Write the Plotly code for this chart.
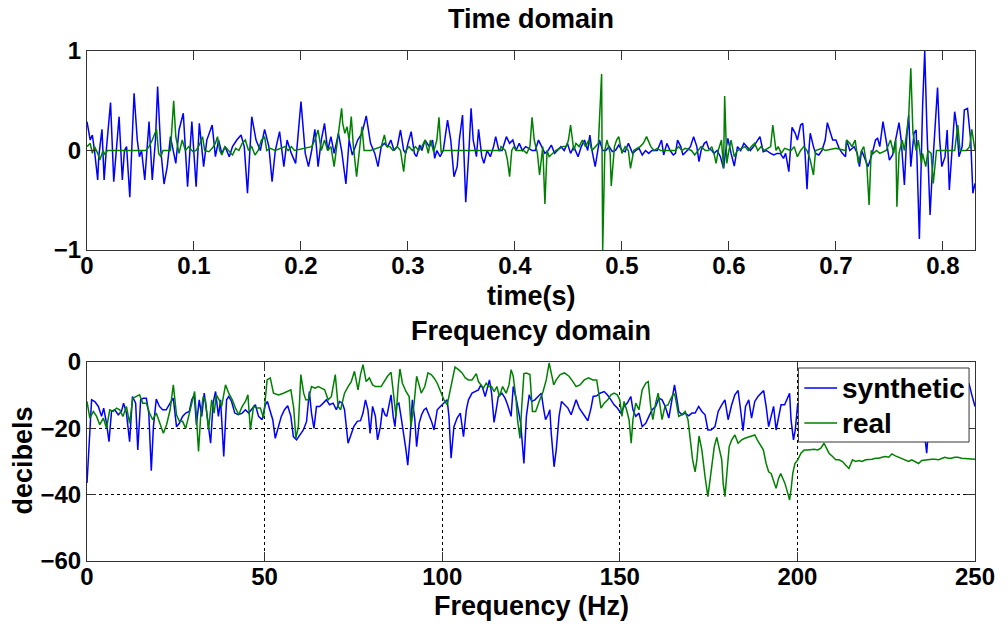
import plotly.graph_objects as go

# ---------------- Time domain data (seconds, normalised amplitude) ----------------
t_synth = [
    0.000, 0.003, 0.005, 0.007, 0.010, 0.011, 0.014, 0.016, 0.018, 0.022,
    0.025, 0.028, 0.030, 0.033, 0.035, 0.037, 0.040, 0.044, 0.047, 0.049,
    0.051, 0.054, 0.058, 0.061, 0.064, 0.066, 0.069, 0.072, 0.075, 0.078,
    0.083, 0.086, 0.090, 0.094, 0.098, 0.102, 0.105, 0.109, 0.112, 0.117,
    0.120, 0.123, 0.126, 0.129, 0.133, 0.136, 0.140, 0.144, 0.147, 0.150,
    0.154, 0.158, 0.162, 0.166, 0.170, 0.173, 0.176, 0.180, 0.184, 0.187,
    0.191, 0.195, 0.200, 0.204, 0.207, 0.210, 0.213, 0.216, 0.219, 0.222,
    0.225, 0.228, 0.231, 0.235, 0.238, 0.242, 0.245, 0.248, 0.253, 0.257,
    0.261, 0.265, 0.269, 0.272,
    0.275, 0.278, 0.281, 0.284, 0.287, 0.290, 0.293, 0.296, 0.298, 0.300,
    0.303, 0.306, 0.308, 0.311, 0.313, 0.316, 0.320, 0.323, 0.325, 0.327,
    0.330, 0.333, 0.337, 0.340, 0.343, 0.346, 0.348, 0.351, 0.353, 0.354,
    0.357, 0.359, 0.361, 0.364, 0.366, 0.369, 0.371, 0.374, 0.377, 0.380,
    0.382, 0.385, 0.388, 0.392, 0.395, 0.398, 0.401, 0.404, 0.407, 0.410,
    0.413, 0.416, 0.419, 0.422, 0.425, 0.428, 0.431, 0.434, 0.437, 0.440,
    0.443, 0.446, 0.449, 0.452, 0.455, 0.459, 0.462, 0.465, 0.468, 0.470,
    0.472, 0.475, 0.477, 0.479, 0.482, 0.485, 0.488, 0.491, 0.494, 0.497,
    0.500, 0.503, 0.506, 0.510, 0.513, 0.516, 0.519, 0.522, 0.525, 0.528,
    0.533, 0.537, 0.539, 0.542, 0.545, 0.548,
    0.550, 0.552, 0.555, 0.557, 0.561, 0.564, 0.567, 0.570, 0.572, 0.574,
    0.577, 0.579, 0.581, 0.584, 0.586, 0.589, 0.592, 0.595, 0.597, 0.599,
    0.602, 0.605, 0.608, 0.611, 0.614, 0.617, 0.620, 0.623, 0.626, 0.629,
    0.632, 0.635, 0.639, 0.642, 0.645, 0.648, 0.651, 0.653, 0.656, 0.659,
    0.662, 0.664, 0.667, 0.669, 0.671, 0.673, 0.675, 0.676, 0.679, 0.681,
    0.684, 0.687, 0.690, 0.692, 0.695, 0.697, 0.700, 0.703, 0.706, 0.709,
    0.710, 0.713, 0.717, 0.720, 0.722, 0.724, 0.727, 0.730, 0.734, 0.737,
    0.739, 0.741, 0.744, 0.747, 0.750, 0.753, 0.756, 0.759, 0.761, 0.764,
    0.766, 0.768, 0.770, 0.773, 0.775, 0.778, 0.781, 0.783, 0.785, 0.788,
    0.790, 0.792, 0.795, 0.797, 0.799, 0.802, 0.804, 0.806, 0.809, 0.811,
    0.813, 0.815, 0.818, 0.820, 0.823, 0.826, 0.828, 0.830,
]
v_synth = [
    0.29, 0.105, 0.156, 0.0, -0.296, -0.062, 0.213, -0.296, 0.0, 0.481,
    -0.313, 0.105, 0.34, -0.296, 0.0, 0.039, -0.47, 0.575, 0.105, -0.062,
    0.0, -0.296, 0.29, -0.296, 0.105, 0.642, 0.0, -0.337, -0.162, 0.139,
    -0.129, 0.206, 0.374, -0.363, 0.29, -0.363, 0.273, -0.162, 0.105, 0.256,
    -0.062, 0.105, -0.029, 0.039, -0.062, 0.039, 0.105, 0.156, 0.039, -0.43,
    0.34, 0.105, 0.0, 0.213, 0.039, -0.313, 0.0, 0.189, -0.162, 0.105,
    -0.029, -0.129, 0.491, -0.029, -0.162, 0.0, 0.213, -0.162, 0.105, 0.273,
    0.0, 0.139, -0.029, 0.173, 0.0, -0.337, 0.105, -0.045, 0.105, 0.173,
    0.347, 0.072, -0.029, -0.162,
    0.039, 0.072, 0.039, 0.105, 0.0, 0.039, 0.206, 0.0, -0.029, 0.072,
    0.189, -0.029, -0.062, 0.055, 0.0, 0.105, 0.039, 0.105, -0.079, 0.0,
    -0.062, 0.0, 0.306, 0.105, -0.263, -0.162, 0.105, 0.357, -0.129, -0.52,
    0.0, 0.424, 0.105, -0.062, 0.213, -0.062, -0.129, 0.0, -0.062, 0.039,
    0.139, 0.0, 0.0, 0.139, 0.072, 0.105, 0.0, 0.072, 0.0, 0.039,
    0.022, 0.0, 0.0, 0.105, 0.039, -0.029, 0.0, 0.055, -0.029, 0.0,
    0.039, 0.0, 0.072, -0.029, 0.039, -0.062, 0.039, 0.105, 0.0, 0.156,
    0.0, -0.162, -0.029, 0.105, 0.0, 0.0, 0.039, -0.012, 0.0, 0.055,
    0.0, -0.012, 0.072, -0.029, 0.0, 0.022, -0.045, 0.0, -0.029, 0.0,
    0.0, 0.105, -0.045, 0.072, 0.0, -0.045,
    -0.029, 0.105, 0.039, -0.045, 0.0, 0.039, 0.139, 0.039, -0.112, 0.0,
    0.072, 0.089, 0.022, 0.0, -0.029, 0.0, -0.062, -0.179, 0.0, 0.122,
    -0.029, -0.156, 0.039, 0.0, 0.072, 0.039, 0.0, 0.039, 0.089, 0.139,
    -0.012, 0.0, -0.029, -0.045, -0.029, -0.029, -0.079, -0.029, -0.213, 0.233,
    0.173, 0.105, 0.256, 0.273, 0.0, -0.39, 0.039, 0.173, 0.039, -0.029,
    -0.045, 0.0, 0.105, 0.28, 0.173, 0.105, 0.105, 0.022, -0.029, -0.062,
    0.105, 0.0, 0.039, -0.029, -0.162, 0.0, -0.079, -0.162, -0.029, 0.105,
    0.122, 0.039, 0.29, 0.105, -0.096, -0.045, 0.105, 0.28, 0.105, -0.347,
    0.105, 0.357, -0.162, 0.173, 0.206, -0.889, 0.441, 1.0, 0.24, -0.648,
    -0.229, 0.105, 0.632, 0.105, -0.162, -0.062, 0.206, -0.397, 0.039, 0.39,
    0.24, -0.062, 0.039, 0.407, 0.424, 0.105, -0.43, -0.33,
]

t_real = [
    0.000, 0.003, 0.005, 0.007, 0.010, 0.012, 0.015, 0.017, 0.019, 0.021,
    0.055, 0.058, 0.061, 0.065, 0.067, 0.069, 0.071, 0.078, 0.079, 0.081,
    0.083, 0.085, 0.086, 0.089, 0.092, 0.095, 0.099, 0.102, 0.105, 0.108,
    0.110, 0.114, 0.117, 0.120, 0.122, 0.124, 0.126, 0.129, 0.133, 0.136,
    0.139, 0.142, 0.145, 0.148, 0.151, 0.154, 0.157, 0.160, 0.163, 0.166,
    0.168, 0.171, 0.176, 0.182, 0.185, 0.188, 0.191, 0.194, 0.210, 0.213,
    0.216, 0.219, 0.222, 0.225, 0.228, 0.231, 0.235, 0.238, 0.239, 0.241,
    0.243, 0.245, 0.247, 0.249, 0.252, 0.255, 0.257, 0.259, 0.265,
    0.275, 0.278, 0.280, 0.283, 0.286, 0.290, 0.293, 0.296, 0.298, 0.301,
    0.304, 0.307, 0.310, 0.313, 0.316, 0.319, 0.321, 0.324, 0.327, 0.329,
    0.331, 0.333, 0.386, 0.387, 0.391, 0.393, 0.395, 0.397, 0.399, 0.401,
    0.408, 0.411, 0.414, 0.416, 0.418, 0.421, 0.423, 0.426, 0.428, 0.430,
    0.432, 0.435, 0.438, 0.445, 0.448, 0.450, 0.452, 0.455, 0.457, 0.460,
    0.463, 0.466, 0.469, 0.472, 0.478, 0.481, 0.482, 0.484, 0.486, 0.489,
    0.490, 0.493, 0.495, 0.497, 0.500, 0.503, 0.506, 0.508, 0.511, 0.514,
    0.517, 0.520, 0.523, 0.527, 0.530, 0.533, 0.536, 0.547,
    0.550, 0.553, 0.556, 0.559, 0.565, 0.568, 0.571, 0.574, 0.578, 0.581,
    0.584, 0.586, 0.588, 0.590, 0.593, 0.595, 0.596, 0.598, 0.600, 0.602,
    0.605, 0.608, 0.615, 0.618, 0.621, 0.624, 0.627, 0.630, 0.633, 0.639,
    0.641, 0.644, 0.646, 0.649, 0.652, 0.658, 0.661, 0.664, 0.667, 0.670,
    0.673, 0.676, 0.679, 0.681, 0.687, 0.690, 0.700, 0.709, 0.710, 0.713,
    0.715, 0.718, 0.721, 0.724, 0.726, 0.729, 0.731, 0.733, 0.735, 0.738,
    0.741, 0.747, 0.751, 0.754, 0.756, 0.757, 0.759, 0.762, 0.764, 0.768,
    0.770, 0.772, 0.775, 0.777, 0.780, 0.781, 0.784, 0.786, 0.789, 0.791,
    0.794, 0.811, 0.814, 0.816, 0.822, 0.825, 0.827, 0.830,
]
v_real = [
    0.039, 0.072, -0.029, 0.039, -0.029, -0.096, 0.0, -0.045, 0.0, 0.0,
    0.0, 0.039, 0.105, 0.213, -0.029, -0.062, 0.0, 0.0, 0.206, 0.5,
    0.139, 0.039, -0.029, 0.105, 0.0, 0.039, -0.012, 0.0, 0.055, 0.139,
    0.0, -0.012, 0.022, 0.072, 0.139, 0.0, -0.045, 0.039, -0.012, -0.045,
    0.022, 0.0, 0.072, 0.105, 0.0, 0.039, -0.045, 0.0, 0.105, 0.139,
    0.0, 0.022, 0.0, 0.022, 0.039, 0.0, 0.039, 0.0, 0.039, 0.105,
    0.206, 0.0, 0.105, 0.0, 0.039, -0.162, 0.206, 0.424, 0.273, 0.173,
    0.24, 0.105, 0.34, 0.039, -0.263, 0.039, 0.24, 0.0, 0.0,
    0.039, 0.156, 0.039, 0.039, 0.0, 0.039, 0.0, -0.213, 0.0, 0.039,
    0.0, 0.039, 0.0, 0.039, 0.105, -0.029, 0.105, -0.012, 0.105, 0.333,
    -0.012, 0.0, 0.0, 0.039, 0.0, -0.096, -0.263, 0.0, 0.039, 0.0,
    0.0, -0.029, 0.039, 0.333, 0.105, -0.029, -0.246, 0.039, -0.537, 0.0,
    -0.062, -0.029, 0.0, 0.039, 0.039, 0.105, 0.256, 0.0, 0.072, 0.039,
    0.105, 0.039, 0.105, 0.0, 0.072, 0.769, -1.0, 0.0, 0.105, -0.029,
    -0.357, 0.039, 0.105, 0.139, -0.029, 0.039, 0.0, -0.179, 0.0, 0.022,
    0.039, 0.072, 0.139, 0.039, 0.0, 0.022, 0.0, 0.0,
    0.0, 0.039, 0.0, 0.022, 0.0, -0.045, 0.0, 0.039, 0.0, 0.0,
    0.039, -0.029, -0.129, 0.0, 0.105, -0.179, 0.548, -0.129, 0.0, 0.105,
    -0.062, 0.0, 0.039, 0.0, 0.039, 0.072, 0.0, 0.039, 0.0, 0.039,
    0.256, 0.0, 0.039, -0.029, 0.022, 0.0, 0.039, -0.062, 0.0, 0.039,
    0.0, -0.096, -0.246, 0.0, 0.022, 0.0, 0.022, 0.0, 0.105, 0.072,
    0.039, 0.105, -0.129, 0.0, 0.039, -0.162, -0.547, 0.0, -0.029, 0.0,
    -0.029, 0.0, 0.105, -0.029, 0.105, -0.564, -0.029, 0.105, 0.0, 0.34,
    0.826, 0.173, 0.0, 0.105, -0.129, -0.029, -0.162, 0.0, -0.029, -0.33,
    0.0, 0.0, 0.256, 0.0, 0.0, 0.039, 0.213, 0.0,
]

# ---------------- Frequency domain data (Hz, dB) ----------------
f_synth = [
    0.0, 1.3, 2.2, 3.2, 4.1, 4.7, 5.5, 6.2, 6.9, 7.8,
    8.8, 9.7, 10.3, 11.1, 12.0, 12.8, 13.7, 14.3, 15.1, 15.9,
    16.7, 17.4, 18.1, 18.7, 19.5, 20.4, 21.3, 22.3, 23.4, 24.3,
    25.2, 26.0, 26.9, 27.8, 28.8, 29.5, 30.2, 30.8, 31.6, 32.3,
    33.0, 33.9, 34.8, 35.5, 36.2, 37.0, 37.6, 38.5, 39.3, 39.9,
    40.7, 41.6, 42.6, 43.7, 44.6, 45.5, 46.5, 47.4, 48.3, 49.3,
    50.2, 50.8, 51.6, 52.3, 53.0, 53.7, 54.7, 55.6, 56.5, 57.4,
    58.1, 59.0, 60.0, 60.9, 61.8, 62.6, 63.2, 63.9, 64.6, 65.5,
    66.5, 67.4, 68.3, 69.3, 70.2, 71.1, 71.9, 72.5, 73.5, 74.2,
    75.1, 76.1, 77.0, 77.7, 78.4, 79.1, 79.7, 80.4, 81.2,
    81.8, 82.6, 83.2, 83.9, 84.4, 85.1, 85.6, 86.2, 86.7, 87.2,
    87.8, 88.4, 89.1, 89.8, 90.3, 91.0, 91.6, 92.3, 92.8, 93.5,
    94.2, 94.9, 95.5, 96.3, 97.0, 97.7, 98.6, 99.5, 100.5, 101.4,
    101.9, 102.5, 103.3, 104.2, 105.1, 106.0, 106.8, 107.4, 108.4, 109.3,
    110.2, 110.9, 111.4, 112.1, 112.7, 113.3, 113.9, 114.6, 115.2, 115.8,
    116.8, 117.7, 118.4, 119.4, 120.0, 120.9, 122.1, 123.0, 123.7, 124.5,
    125.2, 126.1, 127.0, 127.9, 128.6, 129.1, 129.8, 130.3, 130.7, 131.5,
    132.1, 132.9, 133.6, 134.4, 135.4, 136.3, 137.0, 137.7, 138.6, 139.6,
    141.0, 141.9, 142.5, 143.5, 144.4, 145.6, 146.5, 147.5, 148.4, 149.3,
    150.3, 151.2, 152.1, 153.1, 153.7, 154.5, 155.4, 156.3, 157.3, 158.2,
    159.1, 160.1, 161.0, 161.9, 162.8, 163.8, 164.7, 165.4,
    166.1, 166.6, 167.5, 168.4, 169.4, 170.3, 171.2, 172.2, 173.1, 174.0,
    174.8, 175.7, 176.8, 177.7, 178.7, 179.6, 180.5, 181.5, 182.4, 183.3,
    184.0, 184.7, 185.4, 186.3, 187.1, 188.0, 188.9, 189.9, 190.5, 191.2,
    191.9, 192.6, 193.3, 194.0, 194.8, 195.4, 196.4, 197.0, 197.8, 198.2,
    198.9, 199.4, 200.1,
    201.0, 202.0, 203.5, 205.0, 206.0, 207.5, 209.0, 210.0, 211.5, 213.0,
    214.0, 215.5, 217.0, 218.0, 219.5, 221.0, 222.0, 223.5, 225.0, 226.0,
    227.5, 229.0, 230.0, 231.5, 233.0, 234.0, 235.5, 236.4, 237.2, 238.5,
    240.0, 241.0, 242.5, 244.0, 245.0, 246.5, 247.5, 248.3, 249.1, 250.0,
]
db_synth = [
    -36.5, -11.4, -11.9, -13.4, -16.4, -13.9, -18.5, -24.0, -14.9, -14.4,
    -15.9, -14.9, -12.4, -15.4, -24.0, -10.4, -12.4, -26.5, -11.4, -10.9,
    -10.9, -15.4, -32.8, -19.5, -11.2, -13.4, -14.4, -14.4, -12.4, -10.9,
    -19.5, -18.5, -16.4, -15.4, -14.9, -11.4, -9.9, -18.9, -11.4, -16.4,
    -9.4, -17.4, -24.5, -12.4, -8.9, -16.4, -11.4, -28.5, -11.4, -10.4,
    -11.9, -15.4, -15.9, -15.4, -14.4, -15.4, -13.9, -12.9, -16.4, -17.4,
    -12.9, -11.9, -14.9, -17.4, -23.0, -20.0, -16.4, -14.4, -13.2, -16.4,
    -22.5, -23.5, -22.0, -20.5, -18.0, -8.9, -15.4, -20.0, -13.4, -13.4,
    -12.4, -11.4, -12.9, -12.4, -14.4, -11.9, -12.4, -14.4, -24.5, -22.5,
    -19.5, -17.9, -17.7, -15.4, -11.4, -14.4, -21.5, -13.4, -16.4,
    -23.5, -19.5, -13.9, -15.9, -16.4, -12.9, -9.9, -16.4, -19.5, -12.9,
    -12.4, -16.4, -21.0, -26.5, -31.1, -22.0, -11.4, -17.4, -25.5, -18.5,
    -15.9, -14.4, -13.9, -15.9, -17.9, -20.5, -14.4, -13.4, -12.4, -11.4,
    -16.4, -29.0, -19.5, -16.9, -15.4, -22.5, -14.4, -11.4, -9.4, -8.9,
    -8.4, -6.9, -7.9, -10.4, -7.4, -5.4, -9.4, -18.2, -14.4, -10.4,
    -9.4, -10.9, -12.9, -16.4, -7.4, -11.4, -18.5, -30.6, -16.4, -9.9,
    -11.9, -11.4, -10.4, -9.4, -14.4, -17.4, -15.9, -14.4, -21.5, -31.6,
    -26.5, -16.4, -11.9, -12.9, -13.9, -15.9, -13.4, -11.4, -13.9, -15.4,
    -17.7, -13.9, -10.4, -10.2, -9.4, -8.9, -9.9, -11.4, -12.9, -13.9,
    -15.4, -13.4, -12.4, -10.4, -14.4, -16.4, -15.4, -19.5, -18.5, -16.4,
    -14.4, -13.4, -10.9, -11.4, -13.4, -16.9, -11.4, -6.9,
    -11.4, -14.9, -15.9, -15.4, -16.2, -15.4, -15.4, -13.4, -14.9, -15.9,
    -20.5, -20.5, -19.5, -14.9, -12.9, -11.4, -17.4, -12.9, -9.9, -8.6,
    -14.4, -20.7, -13.4, -11.4, -16.9, -11.9, -10.4, -9.4, -8.6, -13.4,
    -19.5, -16.4, -13.4, -20.5, -16.4, -12.9, -12.9, -11.4, -9.4, -17.4,
    -23.5, -20.5, -12.4,
    -15.0, -11.0, -14.0, -18.0, -12.0, -10.0, -16.0, -13.0, -19.0, -12.0,
    -10.0, -15.0, -13.0, -18.0, -11.0, -14.0, -9.0, -16.0, -12.0, -20.0,
    -13.0, -11.0, -15.0, -10.0, -17.0, -13.0, -19.0, -27.5, -16.0, -12.0,
    -14.0, -10.0, -17.0, -12.0, -15.0, -9.0, -12.0, -6.4, -9.9, -13.4,
]

f_real = [
    0.0, 0.8, 1.8, 2.7, 3.6, 4.6, 5.5, 6.4, 7.4, 8.3,
    9.2, 10.1, 11.1, 12.0, 12.9, 13.9, 14.8, 15.7, 16.7, 17.6,
    18.5, 19.5, 20.4, 21.5, 22.4, 23.4, 24.3, 25.2, 26.0, 26.9,
    27.8, 28.8, 29.7, 30.3, 30.8, 31.4, 32.0, 32.7, 33.4, 34.2,
    35.1, 35.8, 36.4, 37.2, 37.9, 39.0, 39.9, 40.9, 41.8, 42.7,
    43.7, 44.6, 45.3, 46.0, 46.9, 47.9, 48.8, 49.7, 50.7, 51.6,
    52.5, 53.9, 55.3, 56.5, 57.4, 58.2, 58.8, 59.5, 60.2, 61.0,
    61.6, 62.3, 63.2, 64.2, 65.1, 66.0, 66.9, 67.9, 68.8, 69.9,
    70.7, 71.4, 72.5, 73.5, 74.4, 75.3, 76.3, 77.0, 77.7, 78.6,
    79.5, 80.4, 81.2,
    82.8, 83.7, 84.6, 85.6, 86.3, 87.0, 87.6, 88.1, 88.8, 89.8,
    90.7, 91.2, 92.1, 92.8, 93.5, 94.1, 95.1, 96.0, 96.9, 97.7,
    98.6, 99.5, 100.5, 101.4, 102.3, 103.1, 103.6, 104.6, 105.6, 106.5,
    107.4, 108.4, 109.0, 109.6, 110.2, 110.9, 111.6, 112.4, 113.0, 113.9,
    114.6, 115.4, 116.1, 117.0, 118.0, 118.8, 119.4, 120.0, 120.8, 121.2,
    121.9, 122.4, 123.0, 123.7, 124.7, 125.4, 126.3, 127.3, 128.4, 129.3,
    130.1, 130.7, 131.4, 132.1, 133.2, 134.4, 135.7, 136.8, 137.7, 138.8,
    140.0, 141.2, 142.4, 143.5, 144.2, 144.7, 145.6, 146.6, 147.5, 148.4,
    149.3, 150.0, 150.6, 151.2, 151.9, 152.6, 153.2, 153.7, 154.5, 155.4,
    156.3, 157.3, 158.0, 158.7, 159.3, 160.1, 160.8, 161.4, 161.9, 162.7,
    163.6, 164.2, 165.2,
    165.6, 166.1, 166.6, 167.5, 168.4, 169.2, 169.8, 170.5, 171.2, 171.7,
    172.3, 173.1, 174.0, 174.8, 175.4, 176.1, 176.6, 177.3, 177.9, 178.7,
    179.1, 179.6, 180.3, 180.8, 181.5, 182.4, 183.3, 184.3, 185.2, 186.1,
    187.1, 188.0, 188.7, 189.7, 190.4, 191.2, 191.9, 192.6, 193.4, 194.0,
    194.7, 195.3, 195.9, 196.5, 197.3, 197.8, 198.2, 198.7, 199.3, 200.1,
    201.0, 201.9, 202.9, 203.8, 204.7, 205.7, 206.6, 207.5, 208.3, 208.9,
    209.9, 210.8, 211.7, 212.7, 213.6, 214.5, 215.5, 216.4, 217.3, 218.2,
    219.2, 220.1, 221.0, 222.0, 222.9, 223.8, 224.8, 225.7, 226.6, 227.6,
    228.5, 229.4, 230.4, 231.3, 232.2, 233.1, 234.1, 235.0, 235.9, 236.9,
    237.8, 238.7, 239.7, 240.6, 241.5, 242.5, 243.4, 244.3, 245.2, 246.2,
    247.1, 248.0, 249.0, 250.0,
]
db_real = [
    -11.9, -16.9, -14.9, -16.4, -18.9, -16.9, -20.0, -14.4, -14.9, -13.9,
    -14.4, -16.4, -13.4, -18.5, -10.9, -10.4, -9.9, -12.4, -12.4, -15.4,
    -17.4, -15.4, -17.9, -21.5, -18.9, -14.4, -6.9, -15.9, -17.9, -17.9,
    -20.0, -15.4, -11.4, -8.9, -16.4, -27.0, -16.4, -10.4, -11.9, -20.5,
    -11.4, -15.4, -9.9, -11.4, -13.4, -6.9, -9.4, -11.4, -13.9, -15.9,
    -13.4, -11.9, -9.9, -20.5, -13.4, -13.9, -13.9, -16.9, -5.4, -4.8,
    -9.4, -9.9, -9.4, -8.9, -8.4, -13.9, -23.0, -19.5, -3.8, -9.4,
    -11.4, -11.4, -7.4, -7.9, -7.4, -7.9, -8.4, -11.4, -10.4, -3.8,
    -13.4, -14.4, -9.4, -7.4, -5.9, -2.8, -8.4, -3.8, -0.8, -5.9,
    -4.8, -6.9, -7.4,
    -7.4, -5.9, -4.3, -3.1, -10.4, -16.4, -7.4, -2.1, -6.4, -8.9,
    -10.4, -19.5, -12.4, -4.3, -6.9, -9.4, -7.4, -3.3, -3.8, -4.8,
    -6.4, -8.9, -11.4, -12.9, -8.4, -4.3, -1.5, -2.3, -3.3, -4.8,
    -5.4, -5.4, -4.3, -3.5, -5.9, -6.9, -7.9, -6.4, -7.4, -7.4,
    -8.9, -7.4, -10.4, -7.4, -9.4, -6.9, -2.3, -4.3, -11.4, -17.4,
    -23.0, -13.4, -3.5, -3.3, -3.8, -14.9, -14.9, -11.9, -8.9, -5.4,
    -0.3, -3.3, -6.9, -5.4, -3.8, -3.3, -4.3, -5.9, -7.4, -6.9,
    -5.4, -4.8, -5.4, -5.4, -10.4, -13.9, -12.4, -11.4, -9.9, -9.4,
    -9.9, -11.4, -16.4, -11.9, -14.4, -17.4, -24.5, -17.4, -12.4, -14.4,
    -8.4, -6.4, -5.9, -13.4, -17.4, -12.4, -9.4, -13.9, -17.4, -13.4,
    -12.9, -11.4, -9.4,
    -10.4, -12.9, -16.4, -15.9, -14.9, -17.4, -22.5, -29.5, -33.1, -29.5,
    -22.3, -26.5, -34.6, -40.6, -35.6, -29.5, -25.5, -22.7, -25.5, -29.5,
    -36.6, -40.6, -31.6, -25.5, -23.5, -22.0, -24.5, -23.5, -23.0, -22.7,
    -22.3, -22.0, -23.5, -25.5, -26.5, -30.6, -33.1, -33.6, -36.1, -38.1,
    -35.1, -33.6, -35.1, -36.6, -39.6, -41.6, -38.6, -33.6, -30.6, -29.5,
    -27.5, -26.5, -26.5, -26.3, -26.3, -26.5, -26.0, -24.5, -26.5, -27.5,
    -28.5, -29.5, -29.5, -30.0, -31.1, -32.1, -29.5, -30.0, -29.7, -30.0,
    -29.5, -29.5, -29.3, -29.0, -29.0, -28.7, -28.5, -28.7, -27.7, -28.3,
    -28.7, -29.0, -29.5, -30.0, -29.5, -30.0, -30.6, -29.7, -29.5, -29.5,
    -29.3, -29.3, -29.5, -29.1, -28.7, -29.0, -29.0, -28.7, -28.7, -29.0,
    -29.1, -29.2, -29.3, -29.3,
]

# ---------------- Axis ticks / labels ----------------
time_ticks = [0, 0.1, 0.2, 0.3, 0.4, 0.5, 0.6, 0.7, 0.8]
time_ticktext = ["0", "0.1", "0.2", "0.3", "0.4", "0.5", "0.6", "0.7", "0.8"]
amp_ticks = [-1, 0, 1]
freq_ticks = [0, 50, 100, 150, 200, 250]
db_ticks = [-60, -40, -20, 0]
legend_names = ["synthetic", "real"]

assert len(t_synth) == len(v_synth)
assert len(t_real) == len(v_real)
assert len(f_synth) == len(db_synth)
assert len(f_real) == len(db_real)

BLUE = "#0000ff"
GREEN = "#008000"
FONT = "Liberation Sans, Arial, sans-serif"
AX = "#333333"

fig = go.Figure()
fig.add_trace(go.Scatter(x=t_synth, y=v_synth, mode="lines", line=dict(color=BLUE, width=1.5),
                         name=legend_names[0], showlegend=False, xaxis="x", yaxis="y"))
fig.add_trace(go.Scatter(x=t_real, y=v_real, mode="lines", line=dict(color=GREEN, width=1.5),
                         name=legend_names[1], showlegend=False, xaxis="x", yaxis="y"))
fig.add_trace(go.Scatter(x=f_synth, y=db_synth, mode="lines", line=dict(color=BLUE, width=1.5),
                         name=legend_names[0], showlegend=False, xaxis="x2", yaxis="y2"))
fig.add_trace(go.Scatter(x=f_real, y=db_real, mode="lines", line=dict(color=GREEN, width=1.5),
                         name=legend_names[1], showlegend=False, xaxis="x2", yaxis="y2"))

tickfont = dict(family=FONT, size=24, color="black", weight="bold")
common = dict(showline=True, linecolor=AX, linewidth=1, mirror="ticks", ticks="inside",
              ticklen=9, tickcolor=AX, tickwidth=1, zeroline=False, tickfont=tickfont)

top_dom = [(561 - 250) / 510, 1.0]
bot_dom = [0.0, (561 - 362) / 510]

fig.update_layout(
    width=1007, height=626,
    margin=dict(l=87, r=25, t=51, b=65),
    paper_bgcolor="white", plot_bgcolor="white",
    showlegend=False,
    xaxis=dict(domain=[0, 1], anchor="y", range=[0, 0.83], tickvals=time_ticks,
               ticktext=time_ticktext, showgrid=False, ticklabelstandoff=-6, **common),
    yaxis=dict(domain=top_dom, anchor="x", range=[-1, 1], tickvals=amp_ticks,
               showgrid=False, **common),
    xaxis2=dict(domain=[0, 1], anchor="y2", range=[0, 250], tickvals=freq_ticks,
                showgrid=True, gridcolor="black", griddash="dot", gridwidth=1,
                ticklabelstandoff=-6, **common),
    yaxis2=dict(domain=bot_dom, anchor="x2", range=[-60, 0], tickvals=db_ticks,
                showgrid=True, gridcolor="black", griddash="dot", gridwidth=1, **common),
)


def px_x(p):
    return (p - 87) / 895


def px_y(p):
    return (561 - p) / 510


# legend box (drawn above the traces, like the reference's opaque legend)
fig.add_shape(type="rect", xref="paper", yref="paper", x0=px_x(804), x1=px_x(976),
              y0=px_y(442), y1=px_y(368), line=dict(color=AX, width=1), fillcolor="white",
              layer="above")
leg_font = dict(family=FONT, size=28, color="black", weight="bold")
for name, col, py in [(legend_names[0], BLUE, 388), (legend_names[1], GREEN, 423)]:
    fig.add_shape(type="line", xref="paper", yref="paper", x0=px_x(810), x1=px_x(843),
                  y0=px_y(py), y1=px_y(py), line=dict(color=col, width=1.5), layer="above")
    fig.add_annotation(text=name, xref="paper", yref="paper", x=px_x(846), y=px_y(py),
                       showarrow=False, font=leg_font, xanchor="left", yanchor="middle")

lab = dict(family=FONT, size=27, color="black", weight="bold")
fig.add_annotation(text="Time domain", xref="paper", yref="paper", x=0.5, y=px_y(19),
                   showarrow=False, font=lab, xanchor="center", yanchor="middle")
fig.add_annotation(text="time(s)", xref="paper", yref="paper", x=0.5, y=px_y(296),
                   showarrow=False, font=lab, xanchor="center", yanchor="middle")
fig.add_annotation(text="Frequency domain", xref="paper", yref="paper", x=0.5, y=px_y(331),
                   showarrow=False, font=lab, xanchor="center", yanchor="middle")
fig.add_annotation(text="Frequency (Hz)", xref="paper", yref="paper", x=0.5, y=px_y(606),
                   showarrow=False, font=lab, xanchor="center", yanchor="middle")
fig.add_annotation(text="decibels", xref="paper", yref="paper", x=px_x(22), y=px_y(461),
                   showarrow=False, font=lab, xanchor="center", yanchor="middle", textangle=-90)

fig.write_html("out.html")
